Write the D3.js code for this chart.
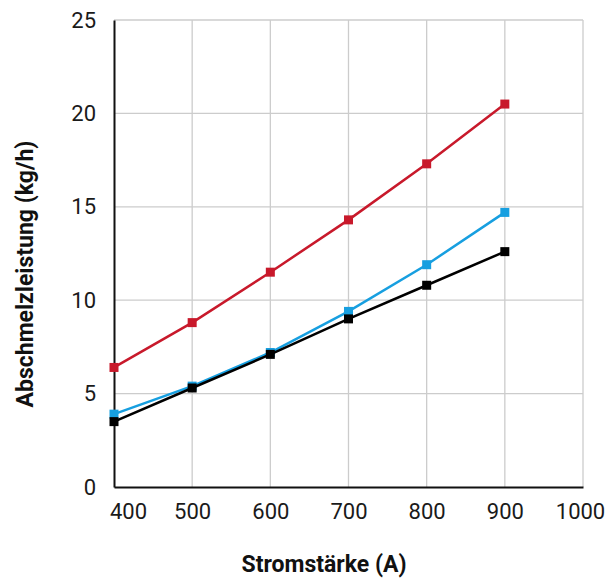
<!DOCTYPE html>
<html>
<head>
<meta charset="utf-8">
<script src="https://cdn.jsdelivr.net/npm/d3@7"></script>
<style>
  body { margin: 0; background: #fff; }
  svg text { font-family: Roboto, "Noto Sans", sans-serif; fill: #1a1a1a; }
</style>
</head>
<body>
<svg id="chart" width="608" height="578"></svg>
<script>
"use strict";

const currents = [400, 500, 600, 700, 800, 900];
const red_values = [6.4, 8.8, 11.5, 14.3, 17.3, 20.5];
const blue_values = [3.9, 5.4, 7.2, 9.4, 11.9, 14.7];
const black_values = [3.5, 5.3, 7.1, 9.0, 10.8, 12.6];
const x_ticks = [400, 500, 600, 700, 800, 900, 1000];
const y_ticks = [0, 5, 10, 15, 20, 25];

const series = [
    { values: red_values, color: '#c8192b' },
    { values: blue_values, color: '#179fe0' },
    { values: black_values, color: '#000000' }
];

const svg = d3.select('#chart');
const plot_left = 114, plot_right = 583, plot_top = 20, plot_bottom = 487;

const xScale = d3.scaleLinear().domain([400, 1000]).range([plot_left, plot_right]);
const yScale = d3.scaleLinear().domain([0, 25]).range([plot_bottom, plot_top]);

// grid
const grid = svg.append('g');
grid.selectAll('line.v')
    .data(x_ticks.slice(1))
    .join('line')
    .attr('x1', d => xScale(d)).attr('x2', d => xScale(d))
    .attr('y1', plot_top).attr('y2', plot_bottom)
    .attr('stroke', '#cccccc').attr('stroke-width', 1.3);
grid.selectAll('line.h')
    .data(y_ticks.slice(1))
    .join('line')
    .attr('x1', plot_left).attr('x2', plot_right)
    .attr('y1', d => yScale(d)).attr('y2', d => yScale(d))
    .attr('stroke', '#cccccc').attr('stroke-width', 1.3);

// axes
const xAxis = svg.append('g')
    .attr('transform', `translate(0,${plot_bottom})`)
    .call(d3.axisBottom(xScale).tickValues(x_ticks).tickFormat(d3.format('d')).tickSize(0).tickPadding(16));
xAxis.select('.domain').attr('stroke', '#111').attr('stroke-width', 2);
xAxis.selectAll('text')
    .attr('font-size', 22)
    .attr('dy', '0.71em')
    .attr('dx', d => d === 400 ? 14 : (d === 1000 ? -3 : 0));

const yAxis = svg.append('g')
    .attr('transform', `translate(${plot_left},0)`)
    .call(d3.axisLeft(yScale).tickValues(y_ticks).tickSize(0).tickPadding(18));
yAxis.select('.domain').attr('stroke', '#111').attr('stroke-width', 2);
yAxis.selectAll('text').attr('font-size', 22);

// lines and markers
const line = d3.line()
    .x((d, i) => xScale(currents[i]))
    .y(d => yScale(d));

for (let s of series) {
    svg.append('path')
        .datum(s.values)
        .attr('d', line)
        .attr('fill', 'none')
        .attr('stroke', s.color)
        .attr('stroke-width', 2.5);
    svg.append('g')
        .selectAll('rect')
        .data(s.values)
        .join('rect')
        .attr('x', (d, i) => xScale(currents[i]) - 4.5)
        .attr('y', d => yScale(d) - 4.5)
        .attr('width', 9)
        .attr('height', 9)
        .attr('fill', s.color);
}

// titles
svg.append('text')
    .attr('x', 324)
    .attr('y', 572)
    .attr('text-anchor', 'middle')
    .attr('font-size', 23)
    .attr('font-weight', 'bold')
    .style('fill', '#111')
    .text('Stromstärke (A)');

svg.append('text')
    .attr('transform', 'translate(33,274) rotate(-90)')
    .attr('text-anchor', 'middle')
    .attr('font-size', 23)
    .attr('font-weight', 'bold')
    .style('fill', '#111')
    .text('Abschmelzleistung (kg/h)');
</script>
</body>
</html>
